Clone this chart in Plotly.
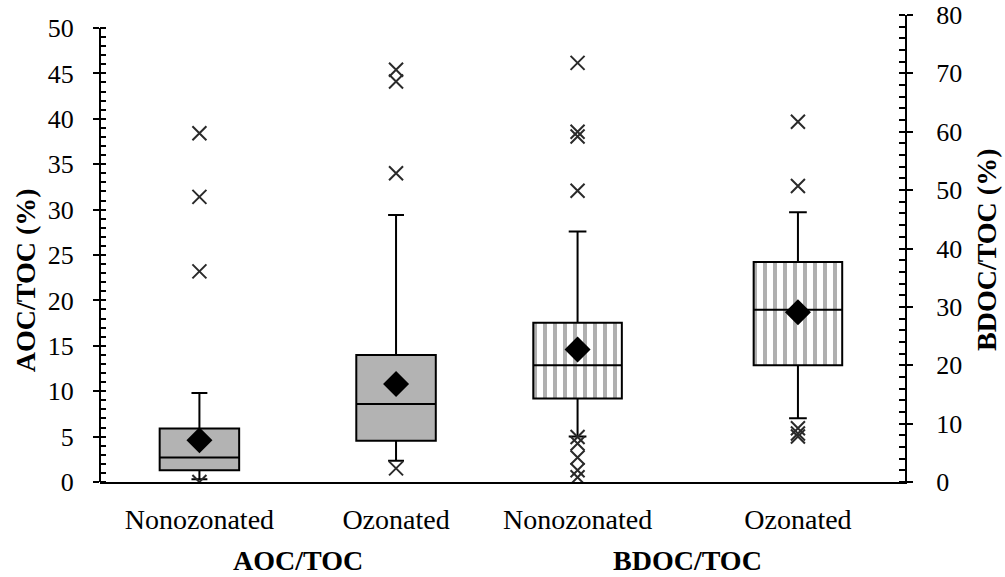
import plotly.graph_objects as go

# ---------------- data ----------------
categories = ["Nonozonated", "Ozonated", "Nonozonated", "Ozonated"]
groups = ["AOC/TOC", "BDOC/TOC"]
group_of = [0, 0, 1, 1]
x_pos = [0.494, 1.471, 2.373, 3.468]
axis_of = ["y", "y", "y2", "y2"]

q1 = [1.3, 4.55, 14.3, 20.0]
median = [2.7, 8.6, 20.0, 29.5]
q3 = [5.9, 14.0, 27.3, 37.7]
lower_whisker = [0.3, 2.35, 7.8, 10.9]
upper_whisker = [9.8, 29.4, 42.9, 46.2]
means = [4.6, 10.8, 22.7, 29.1]
outliers = [
    [38.4, 31.4, 23.2, 0.0],
    [45.4, 44.1, 34.0, 1.5],
    [71.8, 60.0, 59.2, 49.9, 7.7, 6.6, 4.2, 2.0, 0.8],
    [61.7, 50.7, 9.2, 8.3, 7.8],
]

left_ticks = list(range(0, 51, 5))
right_ticks = list(range(0, 81, 10))

# ---------------- style ----------------
FONT = "Liberation Serif"
box_width = [0.395, 0.395, 0.44, 0.44]
solid_fill = "#b3b3b3"
stripe_color = "#b0b0b0"

fig = go.Figure()

# striped fills for BDOC boxes (drawn under the box outlines)
for i in range(4):
    if group_of[i] == 1:
        fig.add_trace(go.Bar(
            x=[x_pos[i]], y=[q3[i] - q1[i]], base=[q1[i]], width=[box_width[i]],
            yaxis=axis_of[i],
            marker=dict(color="white", line=dict(width=0),
                        pattern=dict(shape="|", fgcolor=stripe_color, bgcolor="white",
                                     size=10, solidity=0.4)),
            showlegend=False, hoverinfo="skip"))

for i in range(4):
    fig.add_trace(go.Box(
        x=[x_pos[i]], q1=[q1[i]], median=[median[i]], q3=[q3[i]],
        lowerfence=[lower_whisker[i]], upperfence=[upper_whisker[i]],
        width=box_width[i], whiskerwidth=0.2, boxpoints=False,
        yaxis=axis_of[i],
        fillcolor=solid_fill if group_of[i] == 0 else "rgba(0,0,0,0)",
        line=dict(color="black", width=2),
        showlegend=False))
    fig.add_trace(go.Scatter(
        x=[x_pos[i]] * len(outliers[i]), y=outliers[i], mode="markers",
        yaxis=axis_of[i],
        marker=dict(symbol="x-thin", size=14, line=dict(width=2, color="#2a2a2a")),
        showlegend=False))
    fig.add_trace(go.Scatter(
        x=[x_pos[i]], y=[means[i]], mode="markers", yaxis=axis_of[i],
        marker=dict(symbol="diamond", size=20, color="black"),
        showlegend=False))

# group labels
for g, name in enumerate(groups):
    xs = [x_pos[i] for i in range(4) if group_of[i] == g]
    fig.add_annotation(x=sum(xs) / len(xs), xref="x", y=-0.168, yref="paper",
                       text="<b>%s</b>" % name, showarrow=False,
                       font=dict(family=FONT, size=28, color="black"),
                       xanchor="center", yanchor="middle")

# axis titles
fig.add_annotation(x=-0.093, xref="paper", y=0.4325, yref="paper",
                   text="<b>AOC/TOC (%)</b>", textangle=-90, showarrow=False,
                   font=dict(family=FONT, size=28, color="black"),
                   xanchor="center", yanchor="middle")
fig.add_annotation(x=1.102, xref="paper", y=0.497, yref="paper",
                   text="<b>BDOC/TOC (%)</b>", textangle=-90, showarrow=False,
                   font=dict(family=FONT, size=28, color="black"),
                   xanchor="center", yanchor="middle")

# left axis line only up to 50
fig.add_shape(type="line", xref="paper", x0=0, x1=0, yref="y", y0=0, y1=50,
              line=dict(color="black", width=2))

fig.update_layout(
    template="none",
    width=1005, height=577,
    margin=dict(l=100, r=100, t=15, b=95, autoexpand=False),
    paper_bgcolor="white", plot_bgcolor="white",
    boxmode="overlay", barmode="overlay",
    font=dict(family=FONT, size=24, color="black"),
    xaxis=dict(range=[0, 4], showgrid=False, zeroline=False, automargin=False,
               showline=True, linecolor="black", linewidth=2,
               tickmode="array", tickvals=x_pos, ticktext=categories,
               ticks="", ticklabelstandoff=11,
               tickfont=dict(family=FONT, size=28, color="black")),
    yaxis=dict(range=[0, 50 * 467 / 454], showgrid=False, zeroline=False,
               showline=False, automargin=False,
               tickmode="array", tickvals=left_ticks,
               ticks="outside", ticklen=6, tickwidth=2, tickcolor="black",
               ticklabelstandoff=14,
               minor=dict(tickmode="array", tickvals=list(range(0, 51)),
                          ticks="inside", ticklen=6, tickwidth=1.5, tickcolor="black"),
               tickfont=dict(family=FONT, size=26, color="black")),
    yaxis2=dict(range=[0, 80], overlaying="y", side="right", anchor="x",
                showgrid=False, zeroline=False, automargin=False,
                showline=True, linecolor="black", linewidth=2,
                tickmode="array", tickvals=right_ticks,
                ticks="outside", ticklen=6, tickwidth=2, tickcolor="black",
                ticklabelstandoff=18,
                minor=dict(tickmode="array", tickvals=list(range(0, 81, 2)),
                           ticks="inside", ticklen=6, tickwidth=1.5, tickcolor="black"),
                tickfont=dict(family=FONT, size=26, color="black")),
)

fig.write_html("out.html", config={"displayModeBar": False},
               post_script="document.body.style.margin='0';document.body.style.padding='0';")
